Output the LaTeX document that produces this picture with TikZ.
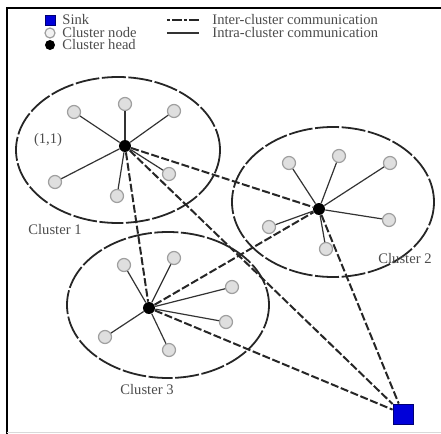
\documentclass[tikz,border=0pt]{standalone}
\usepackage{fontspec}
\setmainfont{Liberation Serif}
\begin{document}
\begin{tikzpicture}[x=0.5pt,y=-0.5pt,font=\fontsize{7.3}{8}\selectfont,
	clnode/.style={circle,draw=gray!75,fill=gray!25,line width=0.6pt,inner sep=0pt,minimum size=6.5pt},
	clhead/.style={circle,fill=black,inner sep=0pt,minimum size=6pt},
	sinknode/.style={rectangle,fill=blue!85!black,draw=blue!45!black,line width=0.4pt,inner sep=0pt,minimum size=10pt},
	inter/.style={line width=1pt,black!85,dash pattern=on 4pt off 1.3pt},
	intra/.style={line width=0.6pt,black!80},
	cluster/.style={line width=0.9pt,black!85,dash pattern=on 12pt off 1.3pt},
	lbl/.style={text=gray!60!black,inner sep=0pt}]

	\useasboundingbox (0,0) rectangle (441,434);

	% Rahmen
	\draw[line width=1.4pt] (7,434) -- (7,8) -- (441,8);
	\draw[line width=0.5pt, gray!30] (7,432) -- (441,432);

	% Legende
	\node[sinknode, minimum size=5pt] (lgsink) at (50,20) {};
	\node[lbl, anchor=west] (lgsinktxt) at (62,20) {Sink};
	\node[clnode, fill=gray!10, minimum size=5pt] (lgnode) at (50,33) {};
	\node[lbl, anchor=west] (lgnodetxt) at (62,33) {Cluster node};
	\node[clhead, minimum size=5pt] (lghead) at (50,45) {};
	\node[lbl, anchor=west] (lgheadtxt) at (62,45) {Cluster head};
	\coordinate (lginterA) at (167,20);
	\coordinate (lginterB) at (199,20);
	\draw[inter, dash pattern=on 1.5pt off 1pt on 5pt off 1pt] (lginterA) -- (lginterB);
	\node[lbl, anchor=west] (lgintertxt) at (212,20) {Inter-cluster communication};
	\coordinate (lgintraA) at (167,33);
	\coordinate (lgintraB) at (199,33);
	\draw[intra] (lgintraA) -- (lgintraB);
	\node[lbl, anchor=west] (lgintratxt) at (212,33) {Intra-cluster communication};

	% Cluster 1
	\draw[cluster] (118,150) ellipse (102 and 73);
	\node[clhead] (h1) at (125,146) {};
	\node[clnode] (n11) at (74,112) {};
	\node[clnode] (n12) at (125,104) {};
	\node[clnode] (n13) at (174,111) {};
	\node[clnode] (n14) at (55,182) {};
	\node[clnode] (n15) at (117,196) {};
	\node[clnode] (n16) at (169,174) {};
	\node[lbl] (pos11) at (48,140) {(1,1)};
	\node[lbl] (lbl1) at (55,230) {Cluster 1};

	% Cluster 2
	\draw[cluster] (333,202) ellipse (101 and 75);
	\node[clhead] (h2) at (319,209) {};
	\node[clnode] (n21) at (289,163) {};
	\node[clnode] (n22) at (339,156) {};
	\node[clnode] (n23) at (390,163) {};
	\node[clnode] (n24) at (389,220) {};
	\node[clnode] (n25) at (269,227) {};
	\node[clnode] (n26) at (326,249) {};
	\node[lbl] (lbl2) at (405,259) {Cluster 2};

	% Cluster 3
	\draw[cluster] (168,305) ellipse (101 and 73);
	\node[clhead] (h3) at (149,308) {};
	\node[clnode] (n31) at (124,265) {};
	\node[clnode] (n32) at (174,258) {};
	\node[clnode] (n33) at (232,287) {};
	\node[clnode] (n34) at (226,322) {};
	\node[clnode] (n35) at (105,337) {};
	\node[clnode] (n36) at (169,350) {};
	\node[lbl] (lbl3) at (147,390) {Cluster 3};

	% Senke
	\node[sinknode] (sink) at (403,414) {};

	% Intra-cluster
	\foreach \c in {1,2,3}
		\foreach \k in {1,...,6}
			\draw[intra] (h\c) -- (n\c\k);

	% Inter-cluster
	\draw[inter] (h1) -- (h2);
	\draw[inter] (h1) -- (h3);
	\draw[inter] (h1) -- (sink);
	\draw[inter] (h3) -- (h2);
	\draw[inter] (h3) -- (sink);
	\draw[inter] (h2) -- (sink);
\end{tikzpicture}
\end{document}
